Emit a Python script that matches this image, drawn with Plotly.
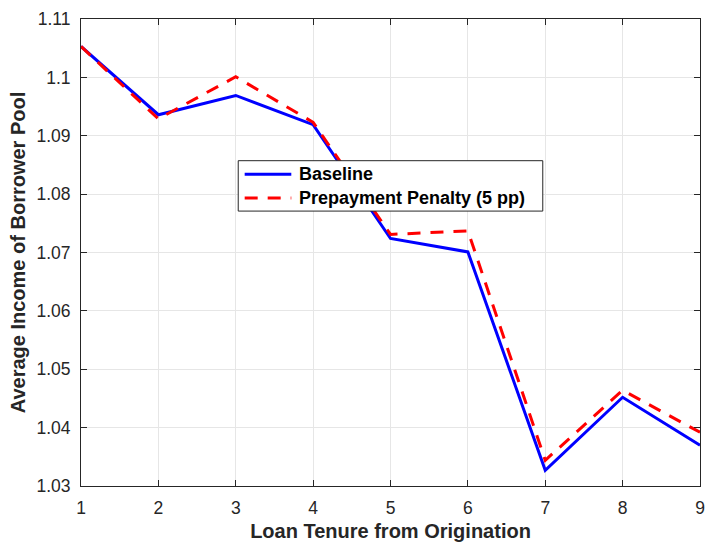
import plotly.graph_objects as go

tenure = [1, 2, 3, 4, 5, 6, 7, 8, 9]
baseline = [1.1053, 1.0936, 1.0969, 1.0919, 1.0724, 1.0701, 1.0327, 1.0452, 1.0370]
penalty = [1.1053, 1.0929, 1.1001, 1.0923, 1.0731, 1.0737, 1.0344, 1.0464, 1.0392]
ytick_vals = [1.03, 1.04, 1.05, 1.06, 1.07, 1.08, 1.09, 1.10, 1.11]
ytick_text = ["1.03", "1.04", "1.05", "1.06", "1.07", "1.08", "1.09", "1.1", "1.11"]
series_names = ["Baseline", "Prepayment Penalty (5 pp)"]

W, H = 710, 543
ML, MR, MT, MB = 81, 5, 19, 56
PW, PH = W - ML - MR, H - MT - MB

def px_x(px):
    return (px - ML) / PW

def px_y(py):
    return (H - MB - py) / PH

FONT = "Liberation Sans, Arial, sans-serif"
blue = dict(color="#0000ff", width=3)
red = dict(color="#ff0000", width=3, dash="13px,10px")

fig = go.Figure()
fig.add_trace(go.Scatter(x=tenure, y=baseline, mode="lines", name=series_names[0],
                         line=blue, showlegend=False))
fig.add_trace(go.Scatter(x=tenure, y=penalty, mode="lines", name=series_names[1],
                         line=red, showlegend=False))

axis_common = dict(showgrid=True, gridcolor="#e6e6e6", gridwidth=1,
                   showline=True, linecolor="#262626", linewidth=1, mirror="ticks",
                   ticks="inside", ticklen=6, tickcolor="#262626", zeroline=False,
                   tickfont=dict(family=FONT, size=17.5, color="#262626"))

# manual legend (MATLAB-style box)
shapes = [dict(type="rect", xref="paper", yref="paper",
               x0=px_x(239.5), x1=px_x(546.5), y0=px_y(211.5), y1=px_y(161),
               line=dict(color="#262626", width=1), fillcolor="white", layer="above")]
rows = [(174.5, blue), (198.5, red)]
annotations = []
for (py, ln), name in zip(rows, series_names):
    shapes.append(dict(type="line", xref="paper", yref="paper",
                       x0=px_x(246), x1=px_x(293), y0=px_y(py), y1=px_y(py),
                       line=ln, layer="above"))
    annotations.append(dict(x=px_x(299), y=px_y(py), xref="paper", yref="paper",
                            text="<b>" + name + "</b>", showarrow=False,
                            xanchor="left", yanchor="middle",
                            font=dict(family=FONT, size=18, color="black")))

fig.update_layout(
    width=W, height=H,
    margin=dict(l=ML, r=MR, t=MT, b=MB),
    paper_bgcolor="white", plot_bgcolor="white",
    xaxis=dict(range=[1, 9], tickvals=tenure, **axis_common, ticklabelstandoff=6,
               title=dict(text="<b>Loan Tenure from Origination</b>", standoff=6,
                          font=dict(family=FONT, size=20, color="#262626"))),
    yaxis=dict(range=[1.03, 1.11], tickvals=ytick_vals, ticktext=ytick_text, **axis_common,
               ticklabelstandoff=6,
               title=dict(text="<b>Average Income of Borrower Pool</b>", standoff=5,
                          font=dict(family=FONT, size=20, color="#262626"))),
    shapes=shapes,
    annotations=annotations,
    showlegend=False,
)

fig.write_html("out.html")
